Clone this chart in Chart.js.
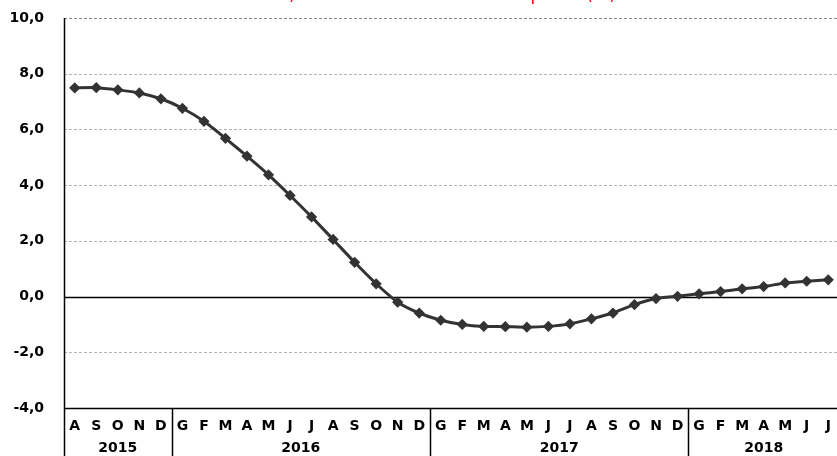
<!DOCTYPE html>
<html>
<head>
<meta charset="utf-8">
<script src="https://cdn.jsdelivr.net/npm/chart.js@4"></script>
<style>
    body { margin: 0; background: #fff; overflow: hidden; }
    #wrap { position: relative; width: 846px; height: 456px; }
</style>
</head>
<body>
<div id="wrap"><canvas id="chart"></canvas></div>
<script>
// Month labels (Italian initials) and years
const monthLabels = ['A', 'S', 'O', 'N', 'D',
    'G', 'F', 'M', 'A', 'M', 'J', 'J', 'A', 'S', 'O', 'N', 'D',
    'G', 'F', 'M', 'A', 'M', 'J', 'J', 'A', 'S', 'O', 'N', 'D',
    'G', 'F', 'M', 'A', 'M', 'J', 'J'];
const yearLabels = ['2015', '2016', '2017', '2018'];
const yearMonths = [5, 12, 12, 7];

// Series values (%)
const values = [7.49, 7.50, 7.42, 7.31, 7.10,
    6.76, 6.29, 5.68, 5.04, 4.37, 3.63, 2.86, 2.05, 1.23, 0.46, -0.20, -0.59,
    -0.85, -1.00, -1.07, -1.08, -1.10, -1.07, -0.98, -0.80, -0.59, -0.29, -0.07, 0.01,
    0.10, 0.18, 0.28, 0.36, 0.49, 0.55, 0.60];

const yTicks = [-4, -2, 0, 2, 4, 6, 8, 10];
const titleText = 'b) Variazione tendenziale dei prezzi (%)';

const FONT = "'DejaVu Sans', Verdana, sans-serif";

// Grid lines, year separators, title
const framePlugin = {
    id: 'frame',
    beforeDatasetsDraw(chart) {
        const { ctx, chartArea: a, scales: { y } } = chart;
        ctx.save();
        yTicks.forEach(v => {
            const py = Math.round(y.getPixelForValue(v)) + 0.5;
            ctx.beginPath();
            if (v === 0 || v === -4) {
                ctx.setLineDash([]);
                ctx.strokeStyle = '#000';
                ctx.lineWidth = 1.5;
            } else {
                ctx.setLineDash([3, 2]);
                ctx.strokeStyle = v === 10 ? '#888' : '#b4b4b4';
                ctx.lineWidth = 1;
            }
            ctx.moveTo(a.left, py);
            ctx.lineTo(a.right, py);
            ctx.stroke();
        });
        ctx.restore();
    },
    afterDraw(chart) {
        const { ctx, chartArea: a } = chart;
        const h = chart.height;
        ctx.save();
        ctx.strokeStyle = '#000';
        ctx.lineWidth = 1.5;
        ctx.setLineDash([]);
        // left axis down to the bottom
        ctx.beginPath();
        ctx.moveTo(a.left + 0.5, a.top);
        ctx.lineTo(a.left + 0.5, h);
        ctx.stroke();
        // year separators and labels
        const step = (a.right - a.left) / monthLabels.length;
        let start = 0;
        ctx.fillStyle = '#000';
        ctx.font = 'bold 14px ' + FONT;
        ctx.textAlign = 'center';
        ctx.textBaseline = 'middle';
        yearLabels.forEach((yr, i) => {
            const end = start + yearMonths[i];
            const xEnd = a.left + end * step;
            if (i < yearLabels.length - 1) {
                ctx.beginPath();
                ctx.moveTo(Math.round(xEnd) + 0.5, a.bottom);
                ctx.lineTo(Math.round(xEnd) + 0.5, h);
                ctx.stroke();
            }
            const cx = a.left + (start + end) / 2 * step;
            ctx.fillText(yr, cx, a.bottom + 40);
            start = end;
        });
        // title, cut off at the top
        ctx.fillStyle = '#ff0000';
        ctx.font = '17px ' + FONT;
        ctx.textBaseline = 'alphabetic';
        ctx.fillText(titleText, 447, 0);
        ctx.restore();
    }
};

const ctx = document.getElementById('chart').getContext('2d');
new Chart(ctx, {
    type: 'line',
    data: {
        labels: monthLabels,
        datasets: [{
            data: values,
            borderColor: '#333333',
            backgroundColor: '#333333',
            borderWidth: 3,
            pointStyle: 'rectRot',
            pointRadius: 3.5,
            pointBackgroundColor: '#333333',
            pointBorderColor: '#333333',
            tension: 0.2
        }]
    },
    options: {
        responsive: true,
        maintainAspectRatio: false,
        animation: false,
        layout: { padding: { top: 18, right: 0, bottom: 0, left: 0 } },
        plugins: { legend: { display: false }, tooltip: { enabled: false } },
        scales: {
            x: {
                offset: true,
                grid: { display: false },
                border: { display: false },
                ticks: {
                    color: '#000',
                    font: { family: FONT, size: 14, weight: 'bold' },
                    maxRotation: 0,
                    autoSkip: false,
                    padding: 2
                },
                afterFit(scale) { scale.height = 48; }
            },
            y: {
                min: -4,
                max: 10,
                grid: { display: false },
                border: { display: false },
                afterFit(scale) {
                    scale.width = 64;
                    scale.paddingTop = 0;
                    scale.paddingBottom = 0;
                },
                ticks: {
                    stepSize: 2,
                    color: '#000',
                    padding: 12,
                    font: { family: FONT, size: 14, weight: 'bold' },
                    callback: v => v.toFixed(1).replace('.', ',')
                }
            }
        }
    },
    plugins: [framePlugin]
});
</script>
</body>
</html>
